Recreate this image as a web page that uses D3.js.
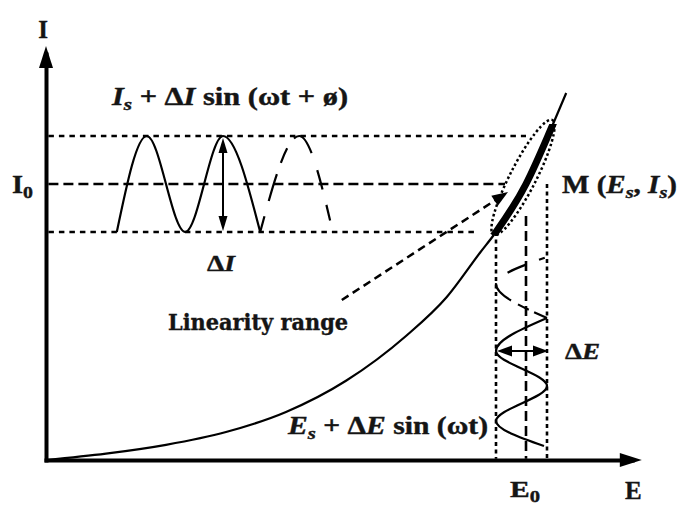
<!DOCTYPE html>
<html>
<head>
<meta charset="utf-8">
<script src="https://cdn.jsdelivr.net/npm/d3@7"></script>
<style>
  body { margin: 0; background: #fff; }
  svg { display: block; }
  text { font-family: "Liberation Serif", "Times New Roman", serif; font-weight: bold; fill: #151515; stroke: #151515; stroke-width: 0.4; }
</style>
</head>
<body>
<svg id="chart" width="679" height="507"></svg>
<script>
// I-E response curve (arbitrary units 0..100)
const curveE = [0, 10, 20, 30, 40, 50, 60, 66.8, 72.3, 75, 80, 84.3, 86.7]
const curveI = [0, 1.6, 3.8, 7, 12, 19.8, 31, 40.75, 51.75, 57, 69, 83.25, 91.75]

// horizontal guides: Is + dI, I0, Is - dI
const levelI = [81, 69, 57]
const levelEndE = [80, 76.5, 72]

// vertical guides: Es - dE, E0, Es + dE
const vertE = [75, 80, 83.5]
const vertTopI = [57, 61, 69]

// output current wave (left), solid part then dashed continuation
const outWaveE = [11.8, 16.8, 23.2, 29.5, 35.7]
const outWaveI = [57, 81, 57, 81, 57]
const outDashE = [35.7, 42.2, 47.8]
const outDashI = [57, 81, 57]

// input potential wave (bottom), solid part then dashed continuation
const inWaveE = [83, 75, 83.5, 75, 83.5]
const inWaveI = [3.5, 9.75, 18.5, 27.25, 35.5]
const inDashE = [83.5, 75, 83.5]
const inDashI = [35.5, 44, 50.75]

// linear range: thick band on the curve, dotted ellipse, pointer arrow
const bandI = [56.5, 84]
const ellipseE = [74.6, 84.4]
const ellipseI = [56.25, 85]
const pointerE = [49.3, 77]
const pointerI = [40, 67]

// amplitude arrows
const dIArrowE = 29.5
const dEArrowI = 27.25

const axisTipE = 99.3
const axisTipI = 103.5

const svg = d3.select('#chart')
const xScale = d3.scaleLinear().domain([0, 100]).range([46, 646])
const yScale = d3.scaleLinear().domain([0, 100]).range([460, 60])

const lineX = d3.line().x(d => xScale(d[0])).y(d => yScale(d[1])).curve(d3.curveMonotoneX)
const lineY = d3.line().x(d => xScale(d[0])).y(d => yScale(d[1])).curve(d3.curveMonotoneY)
const straight = d3.line().x(d => xScale(d[0])).y(d => yScale(d[1]))

function head(g, tx, ty, fx, fy, len, hw) {
    const a = Math.atan2(ty - fy, tx - fx)
    const bx = tx - len * Math.cos(a), by = ty - len * Math.sin(a)
    const px = -Math.sin(a) * hw, py = Math.cos(a) * hw
    g.append('path')
        .attr('d', `M${tx},${ty}L${bx + px},${by + py}L${bx - px},${by - py}Z`)
        .attr('fill', '#000')
}

// axes
const xAxisScale = d3.scaleLinear().domain([0, axisTipE - 1.6]).range([xScale(0), xScale(axisTipE - 1.6)])
const yAxisScale = d3.scaleLinear().domain([0, axisTipI - 2]).range([yScale(0), yScale(axisTipI - 2)])

svg.append('g')
    .attr('transform', `translate(0,${yScale(0)})`)
    .call(d3.axisBottom(xAxisScale).tickValues([]).tickSizeOuter(0))
    .call(g => g.select('.domain').attr('stroke', '#000').attr('stroke-width', 4).attr('stroke-linecap', 'square'))

svg.append('g')
    .attr('transform', `translate(${xScale(0)},0)`)
    .call(d3.axisLeft(yAxisScale).tickValues([]).tickSizeOuter(0))
    .call(g => g.select('.domain').attr('stroke', '#000').attr('stroke-width', 4).attr('stroke-linecap', 'square'))

const marks = svg.append('g')
head(marks, xScale(axisTipE), yScale(0), xScale(0), yScale(0), 22, 7)
head(marks, xScale(0), yScale(axisTipI), xScale(0), yScale(0), 22, 7)

// horizontal guides
const levelDash = ['5.5,5', '10,5', '5.5,5']
levelI.forEach((v, i) => {
    marks.append('path')
        .attr('d', straight([[0.4, v], [levelEndE[i], v]]))
        .attr('fill', 'none').attr('stroke', '#000').attr('stroke-width', 2.6)
        .attr('stroke-dasharray', levelDash[i])
})

// vertical guides
const vertDash = ['4,3.5', '10,5', '4,3.5']
vertE.forEach((v, i) => {
    marks.append('path')
        .attr('d', straight([[v, vertTopI[i]], [v, 0.3]]))
        .attr('fill', 'none').attr('stroke', '#000').attr('stroke-width', 2.6)
        .attr('stroke-dasharray', vertDash[i])
})

// response curve
const curvePts = d3.zip(curveE, curveI)
marks.append('path')
    .attr('d', lineX(curvePts))
    .attr('fill', 'none').attr('stroke', '#000').attr('stroke-width', 2.2)

// thick linear band on the curve
svg.append('clipPath').attr('id', 'band')
    .append('rect')
    .attr('x', 0).attr('width', 679)
    .attr('y', yScale(bandI[1])).attr('height', yScale(bandI[0]) - yScale(bandI[1]))
marks.append('path')
    .attr('d', lineX(curvePts))
    .attr('clip-path', 'url(#band)')
    .attr('fill', 'none').attr('stroke', '#000').attr('stroke-width', 7)

// dotted ellipse around the band
{
    const x1 = xScale(ellipseE[0]), y1 = yScale(ellipseI[0])
    const x2 = xScale(ellipseE[1]), y2 = yScale(ellipseI[1])
    const rx = Math.hypot(x2 - x1, y2 - y1) / 2
    const ang = Math.atan2(y2 - y1, x2 - x1) * 180 / Math.PI
    marks.append('ellipse')
        .attr('transform', `translate(${(x1 + x2) / 2},${(y1 + y2) / 2}) rotate(${ang})`)
        .attr('rx', rx).attr('ry', 13)
        .attr('fill', 'none').attr('stroke', '#000').attr('stroke-width', 2.5)
        .attr('stroke-dasharray', '2.5,2.5')
}

// pointer arrow "Linearity range"
{
    const x1 = xScale(pointerE[0]), y1 = yScale(pointerI[0])
    const x2 = xScale(pointerE[1]), y2 = yScale(pointerI[1])
    const a = Math.atan2(y2 - y1, x2 - x1)
    marks.append('line')
        .attr('x1', x1).attr('y1', y1)
        .attr('x2', x2 - 12 * Math.cos(a)).attr('y2', y2 - 12 * Math.sin(a))
        .attr('stroke', '#000').attr('stroke-width', 2.5).attr('stroke-dasharray', '8,5')
    head(marks, x2, y2, x1, y1, 16, 6)
}

// output wave
marks.append('path')
    .attr('d', lineX(d3.zip(outWaveE, outWaveI)))
    .attr('fill', 'none').attr('stroke', '#000').attr('stroke-width', 2.2)
marks.append('path')
    .attr('d', lineX(d3.zip(outDashE, outDashI)))
    .attr('fill', 'none').attr('stroke', '#000').attr('stroke-width', 2.2)
    .attr('stroke-dasharray', '16,16,28,12,16,12,28,18,20')

// input wave
marks.append('path')
    .attr('d', lineY(d3.zip(inWaveE, inWaveI)))
    .attr('fill', 'none').attr('stroke', '#000').attr('stroke-width', 2.2)
marks.append('path')
    .attr('d', lineY(d3.zip(inDashE, inDashI)))
    .attr('fill', 'none').attr('stroke', '#000').attr('stroke-width', 2.2)
    .attr('stroke-dasharray', '14,6,12,8,24,16,20')

// dI arrow
{
    const x = xScale(dIArrowE), yt = yScale(levelI[0]) + 2, yb = yScale(levelI[2]) - 1
    marks.append('line').attr('x1', x).attr('x2', x).attr('y1', yt + 10).attr('y2', yb - 10)
        .attr('stroke', '#000').attr('stroke-width', 2)
    head(marks, x, yt, x, yb, 15, 4.5)
    head(marks, x, yb, x, yt, 15, 4.5)
}

// dE arrow
{
    const y = yScale(dEArrowI), xl = xScale(vertE[0]) + 1, xr = xScale(vertE[2]) + 1
    marks.append('line').attr('x1', xl + 10).attr('x2', xr - 10).attr('y1', y).attr('y2', y)
        .attr('stroke', '#000').attr('stroke-width', 2)
    head(marks, xl, y, xr, y, 15, 5.5)
    head(marks, xr, y, xl, y, 15, 5.5)
}

// labels
function richText(x, y, parts, size, len, family) {
    const t = svg.append('text').attr('x', x).attr('y', y).style('font-size', size + 'px')
    if (len) t.attr('textLength', len).attr('lengthAdjust', 'spacingAndGlyphs')
    if (family) t.style('font-family', family)
    let down = false
    parts.forEach(p => {
        const s = t.append('tspan').text(p.t)
        if (p.it) s.style('font-style', 'italic')
        if (p.sub) { s.attr('dy', 5).style('font-size', (size * 0.7) + 'px'); down = true }
        else if (down) { s.attr('dy', -5); down = false }
    })
    return t
}

richText(xScale(0) - 3, 38, [{t: 'I'}], 25).attr('text-anchor', 'middle')
richText(12, yScale(levelI[1]) + 9, [{t: 'I'}, {t: '0', sub: true}], 25, 21)
richText(112, 105, [{t: 'I', it: true}, {t: 's', it: true, sub: true}, {t: ' + Δ'}, {t: 'I', it: true}, {t: ' sin (ωt + ø)'}], 25, 236)
richText(207, 271, [{t: 'Δ'}, {t: 'I', it: true}], 24, 28)
richText(168, 330, [{t: 'Linearity range'}], 22, 180, '"DejaVu Serif", serif')
richText(562, yScale(levelI[1]) + 9, [{t: 'M ('}, {t: 'E', it: true}, {t: 's', it: true, sub: true}, {t: ', '}, {t: 'I', it: true}, {t: 's', it: true, sub: true}, {t: ')'}], 25, 115)
richText(565, yScale(dEArrowI) + 8, [{t: 'Δ'}, {t: 'E', it: true}], 24, 35)
richText(288, 434, [{t: 'E', it: true}, {t: 's', it: true, sub: true}, {t: ' + Δ'}, {t: 'E', it: true}, {t: ' sin (ωt)'}], 25, 200)
richText(xScale(vertE[1]) - 16, 497, [{t: 'E'}, {t: '0', sub: true}], 24, 30)
richText(625, 499, [{t: 'E'}], 25)
</script>
</body>
</html>
